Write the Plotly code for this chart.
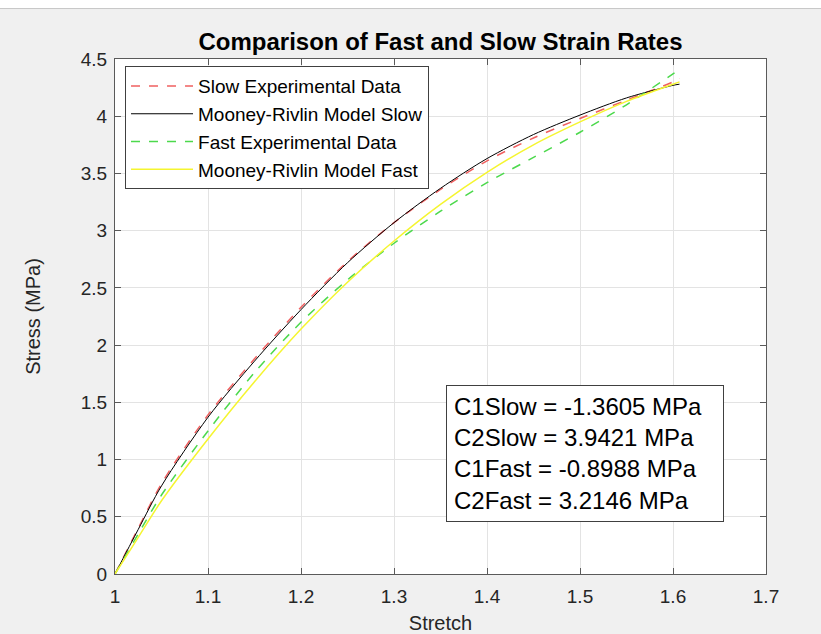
import plotly.graph_objects as go

# Stretch samples
stretch = [1.0, 1.025, 1.05, 1.1, 1.15, 1.2, 1.25, 1.3, 1.35, 1.4, 1.45, 1.5, 1.55, 1.6, 1.607]

slow_exp = [0, 0.40, 0.79, 1.39, 1.88, 2.33, 2.73, 3.07, 3.36, 3.61, 3.81, 3.98, 4.14, 4.30, 4.33]
slow_model = [0, 0.39, 0.77, 1.37, 1.86, 2.31, 2.72, 3.07, 3.37, 3.63, 3.84, 4.01, 4.16, 4.27, 4.28]
fast_exp = [0, 0.35, 0.69, 1.25, 1.76, 2.20, 2.57, 2.89, 3.17, 3.42, 3.64, 3.86, 4.10, 4.37, 4.41]
fast_model = [0, 0.32, 0.64, 1.18, 1.68, 2.14, 2.55, 2.91, 3.23, 3.51, 3.75, 3.95, 4.13, 4.28, 4.30]

x_ticks = [1, 1.1, 1.2, 1.3, 1.4, 1.5, 1.6, 1.7]
x_tick_labels = ["1", "1.1", "1.2", "1.3", "1.4", "1.5", "1.6", "1.7"]
y_ticks = [0, 0.5, 1, 1.5, 2, 2.5, 3, 3.5, 4, 4.5]
y_tick_labels = ["0", "0.5", "1", "1.5", "2", "2.5", "3", "3.5", "4", "4.5"]

params_text = ["C1Slow = -1.3605 MPa", "C2Slow = 3.9421 MPa",
               "C1Fast = -0.8988 MPa", "C2Fast = 3.2146 MPa"]

FONT = "Liberation Sans, Arial, sans-serif"
TXT = "#262626"

fig = go.Figure()
fig.add_trace(go.Scatter(x=stretch, y=slow_exp, mode="lines", name="Slow Experimental Data",
                         line=dict(color="#f06060", width=1.5, dash="dash", shape="spline", smoothing=0.8)))
fig.add_trace(go.Scatter(x=stretch, y=slow_model, mode="lines", name="Mooney-Rivlin Model Slow",
                         line=dict(color="#000000", width=1, shape="spline", smoothing=0.8)))
fig.add_trace(go.Scatter(x=stretch, y=fast_exp, mode="lines", name="Fast Experimental Data",
                         line=dict(color="#4cd94c", width=1.5, dash="dash", shape="spline", smoothing=0.8)))
fig.add_trace(go.Scatter(x=stretch, y=fast_model, mode="lines", name="Mooney-Rivlin Model Fast",
                         line=dict(color="#f5f530", width=1.5, shape="spline", smoothing=0.8)))

axis_common = dict(showgrid=True, gridcolor="#e3e3e3", gridwidth=1, zeroline=False,
                   showline=True, linecolor="#5a5a5a", linewidth=1, mirror="ticks",
                   ticks="inside", ticklen=6, tickcolor="#5a5a5a", automargin=False,
                   tickfont=dict(family=FONT, size=19, color=TXT))

fig.update_xaxes(range=[1, 1.7], tickvals=x_ticks, ticktext=x_tick_labels, ticklabelstandoff=5,
                 title=dict(text="Stretch", font=dict(family=FONT, size=20, color=TXT), standoff=10),
                 **axis_common)
fig.update_yaxes(range=[0, 4.5], tickvals=y_ticks, ticktext=y_tick_labels, ticklabelstandoff=3,
                 title=dict(text="Stress (MPa)", font=dict(family=FONT, size=20, color=TXT), standoff=34),
                 **axis_common)

fig.add_annotation(xref="paper", yref="paper", x=0.5084, y=0.367, xanchor="left", yanchor="top",
                   text="<br>".join(params_text), align="left", showarrow=False, width=262,
                   font=dict(family=FONT, size=24, color="#000000"),
                   bordercolor="#404040", borderwidth=1, borderpad=7, bgcolor="#ffffff")

# white strip on top of the figure window
fig.add_shape(type="rect", xref="paper", yref="paper", x0=-0.2, x1=1.1, y0=1.098, y1=1.12,
              fillcolor="#ffffff", line=dict(width=0), layer="above")
fig.add_shape(type="line", xref="paper", yref="paper", x0=-0.2, x1=1.1, y0=1.098, y1=1.098,
              line=dict(color="#c8c8c8", width=1), layer="above")

fig.update_layout(
    width=821, height=634,
    margin=dict(l=115, r=55, t=59, b=60),
    paper_bgcolor="#f0f0f0", plot_bgcolor="#ffffff",
    title=dict(text="<b>Comparison of Fast and Slow Strain Rates</b>", x=0.5, xref="paper",
               xanchor="center", y=1 - 42 / 634, yanchor="middle",
               font=dict(family=FONT, size=24, color="#000000")),
    legend=dict(x=0.0154, y=0.986, xanchor="left", yanchor="top", bgcolor="#ffffff",
                bordercolor="#404040", borderwidth=1,
                font=dict(family=FONT, size=19, color="#000000"),
                tracegroupgap=0, itemwidth=62),
    showlegend=True,
)

fig.write_html("out.html", post_script="document.body.style.margin='0';",
               config={"displayModeBar": False})
